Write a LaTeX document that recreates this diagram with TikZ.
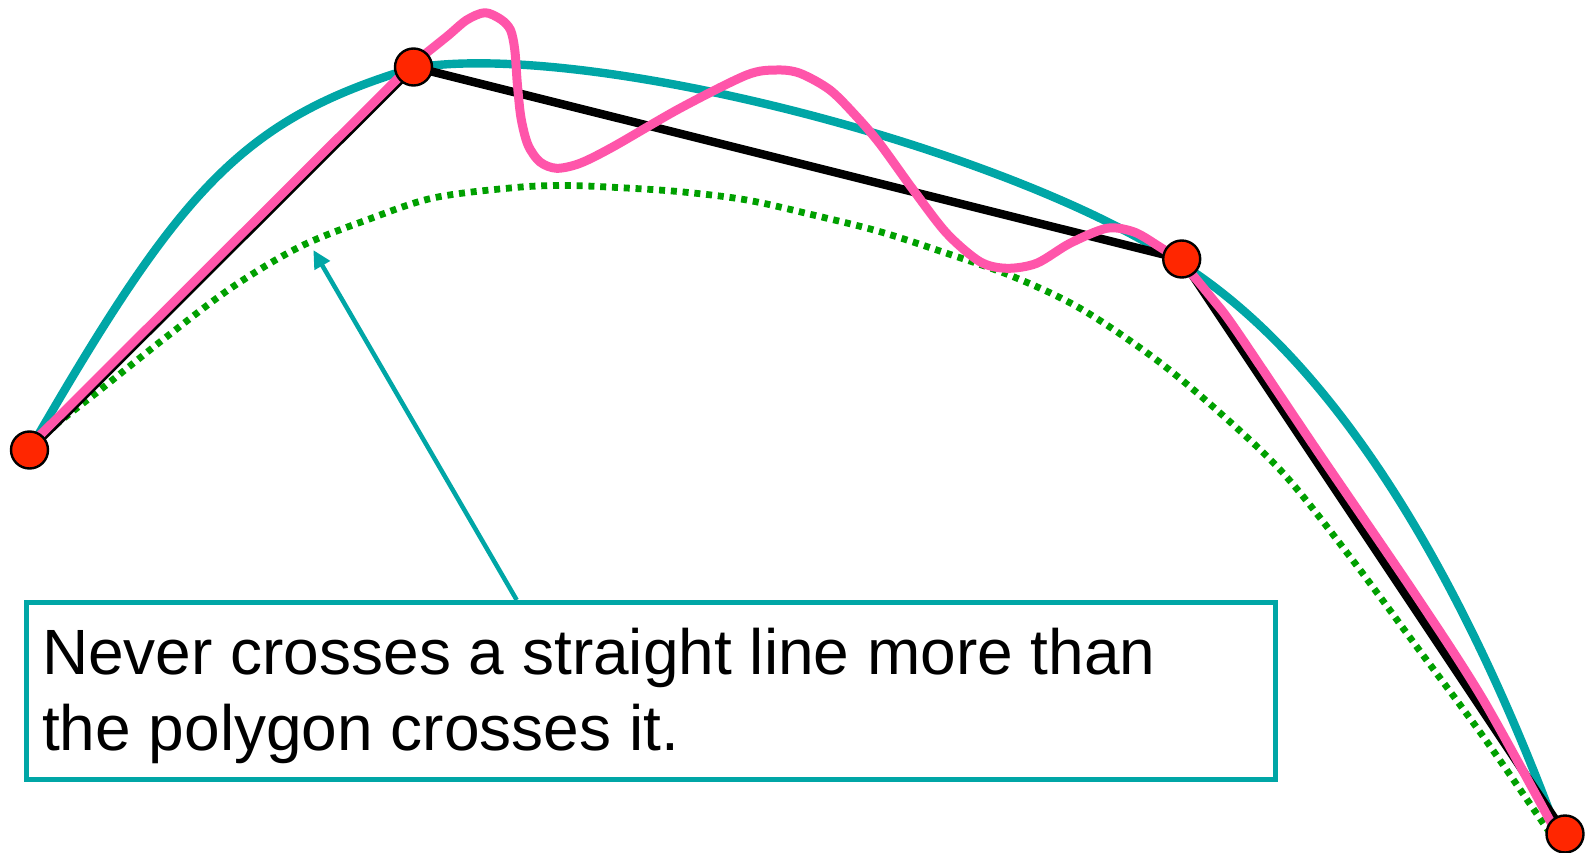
\documentclass[tikz,border=0pt]{standalone}
\usepackage{fontspec}
\setmainfont{Liberation Sans}
\usetikzlibrary{arrows.meta}
\definecolor{tealc}{RGB}{0,166,166}
\definecolor{pinkc}{RGB}{255,85,170}
\definecolor{greenc}{RGB}{0,160,0}
\definecolor{redc}{RGB}{255,38,0}
\begin{document}
\begin{tikzpicture}[x=1pt,y=-1pt,
  ctrldot/.style={circle,draw=black,line width=2.4pt,fill=redc,minimum size=37pt,inner sep=0pt},
  polyline/.style={draw=black,line width=8.4pt},
  interpcurve/.style={draw=tealc,line width=8.4pt,line cap=round},
  wigglecurve/.style={draw=pinkc,line width=9pt,line cap=round,line join=round},
  beziercurve/.style={draw=greenc,line width=6.8pt,dash pattern=on 6pt off 5.8pt},
  notebox/.style={draw=tealc,line width=4.8pt,fill=none,inner sep=0pt},
  notetext/.style={anchor=base west,inner sep=0pt,font=\fontsize{64}{76}\selectfont},
  pointer/.style={draw=tealc,line width=4.5pt,-{Triangle[length=18pt,width=17pt]}}]
\useasboundingbox (0,0) rectangle (1585,853);

% control point positions
\coordinate (c0) at (29.5,450);
\coordinate (c1) at (413.5,67);
\coordinate (c2) at (1181.7,259);
\coordinate (c3) at (1565,834);

% green dotted approximating curve
\draw[beziercurve] plot[smooth,tension=0.55] coordinates {
 (29.5,450) (53,427) (100,390) (166.7,336.7) (233,286.7) (300,246.7)
 (366.7,220) (433,198) (513.3,187.7) (563.3,185.5) (613.3,187.3)
 (680,191.7) (746.7,200) (813.3,215) (880,231.7) (946.7,253.3)
 (1013.3,276.7) (1080,308.3) (1153.3,357.5) (1216.7,410) (1283.3,473.3)
 (1350,556.7) (1416.7,646.7) (1483.3,736.7) (1543.3,823.3) (1551,834)};

% teal interpolating curve
\coordinate (t0) at (29.5,450);
\coordinate (t1) at (413,68);
\coordinate (t2) at (1180,263);
\coordinate (t3) at (1558,834);
\draw[interpcurve] (t0) .. controls (179.5,190.2) and (240.6,119.7) .. (t1)
  .. controls (585.8,39.3) and (1007.3,147.9) .. (t2)
  .. controls (1357.7,374.9) and (1481.7,627.6) .. (t3);

% control polygon
\draw[polyline] (c0) -- (c1) -- (c2) -- (c3);

% pink wiggly curve
\draw[wigglecurve] (27.4,447.9) -- (411.4,64.9);
\draw[wigglecurve] plot[smooth,tension=0.5] coordinates {
 (411.4,64.9) (446.7,36.7) (466.7,20) (485,12.7) (501,19.5) (510.5,30)
 (514.8,50) (517.3,83.3) (521,118) (528,145) (540,162) (556.7,168.3)
 (580,163.3) (613.3,146.7) (680,108.3) (746.7,75) (776.7,70) (800,73.3)
 (830,90) (856.7,116.7) (880,144) (913.3,190) (946.7,233.3) (980,261.7)
 (1006.7,268.3) (1036.7,263.3) (1070,243.3) (1106.7,228.3) (1133.3,231.7)
 (1156.7,245) (1181.7,263) (1213.3,300) (1236,330) (1316.7,450)
 (1416.7,596.7) (1483.3,700) (1555,830)};

% control points
\node[ctrldot] (p0) at (c0) {};
\node[ctrldot] (p1) at (c1) {};
\node[ctrldot] (p2) at (c2) {};
\node[ctrldot] (p3) at (c3) {};

% note box
\node[notebox,anchor=north west,minimum width=1248.7pt,minimum height=177pt] (box) at (24.3,600) {};
\node[notetext] (line1) at (42,674.5) {Never crosses a straight line more than};
\node[notetext] (line2) at (42,750) {the polygon crosses it.};

% pointer
\coordinate (tail) at (516.7,600);
\coordinate (tip) at (313.3,250);
\draw[pointer] (tail) -- (tip);
\end{tikzpicture}
\end{document}
